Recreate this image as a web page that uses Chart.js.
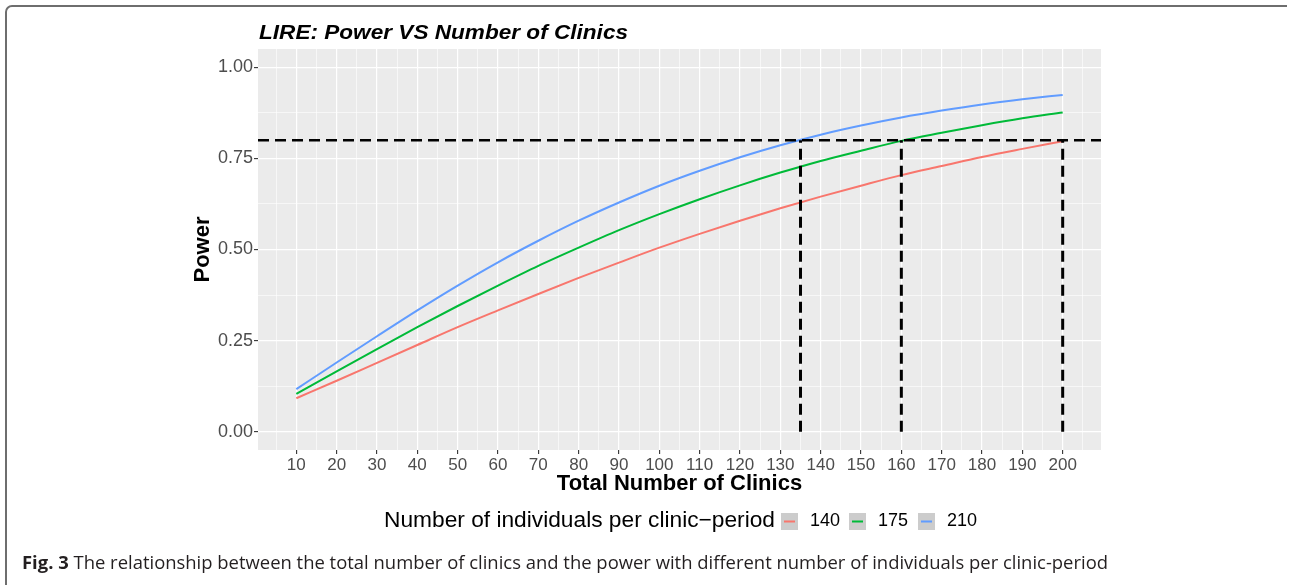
<!DOCTYPE html>
<html>
<head>
<meta charset="utf-8">
<script src="https://cdn.jsdelivr.net/npm/chart.js@4.4.0/dist/chart.umd.min.js"></script>
<style>
  html, body { margin: 0; padding: 0; background: #fff; }
  #wrap { width: 1289px; height: 585px; }
</style>
</head>
<body>
<div id="wrap"><canvas id="powerChart" width="1289" height="585"></canvas></div>
<script>
// clinics on the x axis
const clinics = [10, 20, 30, 40, 50, 60, 70, 80, 90, 100, 110, 120, 130, 140, 150, 160, 170, 180, 190, 200];

// power for each number of individuals per clinic-period
const power140 = [0.092, 0.140, 0.189, 0.238, 0.287, 0.333, 0.378, 0.422, 0.464, 0.505, 0.543, 0.579, 0.613, 0.645, 0.675, 0.704, 0.729, 0.754, 0.776, 0.797];
const power175 = [0.104, 0.166, 0.227, 0.287, 0.345, 0.401, 0.455, 0.505, 0.553, 0.597, 0.638, 0.676, 0.711, 0.743, 0.771, 0.798, 0.820, 0.841, 0.860, 0.876];
const power210 = [0.117, 0.190, 0.262, 0.333, 0.401, 0.465, 0.524, 0.579, 0.629, 0.675, 0.716, 0.753, 0.786, 0.815, 0.840, 0.862, 0.881, 0.898, 0.912, 0.924];

const groupLabels = ['140', '175', '210'];
const groupColors = ['#F8766D', '#00BA38', '#619CFF'];

// 80% power target and clinics needed to reach it
const targetPower = 0.8;
const clinicsNeeded = [135, 160, 200];

// axis ticks
const xTickLabels = [10, 20, 30, 40, 50, 60, 70, 80, 90, 100, 110, 120, 130, 140, 150, 160, 170, 180, 190, 200];
const yTickLabels = [0, 0.25, 0.5, 0.75, 1];
const xRange = [0.5, 209.5];
const yRange = [-0.05, 1.05];

const FONT = '"Liberation Sans", Arial, sans-serif';

// minor grid lines sit halfway between the major ones
function withMinor(majors) {
    const step = majors[1] - majors[0];
    const out = [majors[0] - step / 2];
    majors.forEach(v => { out.push(v); out.push(v + step / 2); });
    return out;
}
const xGrid = withMinor(xTickLabels);
const yGrid = withMinor(yTickLabels).filter(v => v >= yRange[0] && v <= yRange[1]);

const isMajor = (list, v) => list.some(m => Math.abs(m - v) < 1e-9);

const series = [power140, power175, power210].map((values, i) => ({
    label: groupLabels[i],
    data: clinics.map((c, j) => ({ x: c, y: values[j] })),
    borderColor: groupColors[i],
    borderWidth: 2,
    pointRadius: 0,
    cubicInterpolationMode: 'monotone',
    fill: false,
    order: 2,
}));

const cutoffLines = [{
    label: 'target',
    data: [{ x: xRange[0], y: targetPower }, { x: xRange[1], y: targetPower }],
    borderColor: '#000',
    borderWidth: 2.5,
    borderDash: [11, 6],
    pointRadius: 0,
    order: 1,
}].concat(clinicsNeeded.map(c => ({
    label: 'needed ' + c,
    data: [{ x: c, y: 0 }, { x: c, y: targetPower }],
    borderColor: '#000',
    borderWidth: 3,
    borderDash: [11, 6],
    pointRadius: 0,
    order: 1,
})));

function drawFitted(ctx, text, x, y, width) {
    const w = ctx.measureText(text).width;
    ctx.save();
    ctx.translate(x, y);
    ctx.scale(width / w, 1);
    ctx.fillText(text, 0, 0);
    ctx.restore();
}

const decorations = {
    id: 'decorations',
    beforeDraw(chart) {
        const { ctx, chartArea: a } = chart;
        ctx.save();
        ctx.fillStyle = '#EBEBEB';
        ctx.fillRect(a.left, a.top, a.right - a.left, a.bottom - a.top);
        ctx.restore();
    },
    afterDraw(chart) {
        const { ctx, chartArea: a } = chart;
        ctx.save();

        // figure frame
        ctx.strokeStyle = '#6E6E6E';
        ctx.lineWidth = 2;
        ctx.beginPath();
        ctx.moveTo(1287, 6);
        ctx.lineTo(12, 6);
        ctx.arcTo(6, 6, 6, 12, 6);
        ctx.lineTo(6, 585);
        ctx.stroke();

        // title
        ctx.fillStyle = '#000';
        ctx.textBaseline = 'alphabetic';
        ctx.textAlign = 'left';
        ctx.font = 'italic bold 21px ' + FONT;
        drawFitted(ctx, 'LIRE: Power VS Number of Clinics', a.left + 1, 39, 369);

        // axis titles
        ctx.font = 'bold 22px ' + FONT;
        ctx.textBaseline = 'middle';
        ctx.textAlign = 'center';
        ctx.fillText('Total Number of Clinics', (a.left + a.right) / 2, 484);
        ctx.save();
        ctx.translate(203, (a.top + a.bottom) / 2);
        ctx.rotate(-Math.PI / 2);
        ctx.fillText('Power', 0, 0);
        ctx.restore();

        // legend
        ctx.textAlign = 'left';
        ctx.font = '22px ' + FONT;
        drawFitted(ctx, 'Number of individuals per clinic\u2212period', 384, 521, 391);
        const keyX = [781, 849, 918];
        groupLabels.forEach((lab, i) => {
            const x = keyX[i];
            ctx.fillStyle = '#CCCCCC';
            ctx.fillRect(x, 513, 17, 17);
            ctx.strokeStyle = groupColors[i];
            ctx.lineWidth = 2;
            ctx.beginPath();
            ctx.moveTo(x + 3, 521.5);
            ctx.lineTo(x + 14, 521.5);
            ctx.stroke();
            ctx.fillStyle = '#000';
            ctx.font = '18px ' + FONT;
            ctx.fillText(lab, x + 29, 521);
        });

        // caption
        const boldPart = 'Fig. 3';
        const restPart = ' The relationship between the total number of clinics and the power with different number of individuals per clinic-period';
        ctx.font = 'bold 18px "Open Sans", sans-serif';
        const wb = ctx.measureText(boldPart).width;
        ctx.font = '18px "Open Sans", sans-serif';
        const wr = ctx.measureText(restPart).width;
        const k = 1086 / (wb + wr);
        ctx.save();
        ctx.translate(22, 564);
        ctx.scale(k, 1);
        ctx.fillStyle = '#231F20';
        ctx.font = 'bold 18px "Open Sans", sans-serif';
        ctx.fillText(boldPart, 0, 0);
        ctx.font = '18px "Open Sans", sans-serif';
        ctx.fillText(restPart, wb, 0);
        ctx.restore();

        ctx.restore();
    }
};

const canvas = document.getElementById('powerChart');
new Chart(canvas, {
    type: 'line',
    data: { datasets: series.concat(cutoffLines) },
    options: {
        responsive: false,
        animation: false,
        layout: { padding: { left: 180, top: 49, right: 188, bottom: 95 } },
        plugins: {
            legend: { display: false },
            tooltip: { enabled: false },
        },
        scales: {
            x: {
                type: 'linear',
                min: xRange[0],
                max: xRange[1],
                afterBuildTicks: (scale) => { scale.ticks = xGrid.map(v => ({ value: v })); },
                afterFit: (scale) => { scale.height = 40; },
                border: { display: false },
                grid: {
                    color: '#FFFFFF',
                    lineWidth: (c) => (c.tick && isMajor(xTickLabels, c.tick.value) ? 1.2 : 0.6),
                    tickColor: (c) => (c.tick && isMajor(xTickLabels, c.tick.value) ? '#333333' : 'rgba(0,0,0,0)'),
                    tickLength: 4,
                    tickWidth: 1.1,
                },
                ticks: {
                    autoSkip: false,
                    maxRotation: 0,
                    padding: 1,
                    color: '#4D4D4D',
                    font: { family: FONT, size: 17 },
                    callback: (v) => (isMajor(xTickLabels, v) ? String(v) : ''),
                },
            },
            y: {
                type: 'linear',
                min: yRange[0],
                max: yRange[1],
                afterBuildTicks: (scale) => { scale.ticks = yGrid.map(v => ({ value: v })); },
                afterFit: (scale) => { scale.width = 78; },
                border: { display: false },
                grid: {
                    color: '#FFFFFF',
                    lineWidth: (c) => (c.tick && isMajor(yTickLabels, c.tick.value) ? 1.2 : 0.6),
                    tickColor: (c) => (c.tick && isMajor(yTickLabels, c.tick.value) ? '#333333' : 'rgba(0,0,0,0)'),
                    tickLength: 4,
                    tickWidth: 1.1,
                },
                ticks: {
                    autoSkip: false,
                    padding: 1,
                    color: '#4D4D4D',
                    font: { family: FONT, size: 18 },
                    callback: (v) => (isMajor(yTickLabels, v) ? v.toFixed(2) : ''),
                },
            },
        },
    },
    plugins: [decorations],
});
</script>
</body>
</html>
